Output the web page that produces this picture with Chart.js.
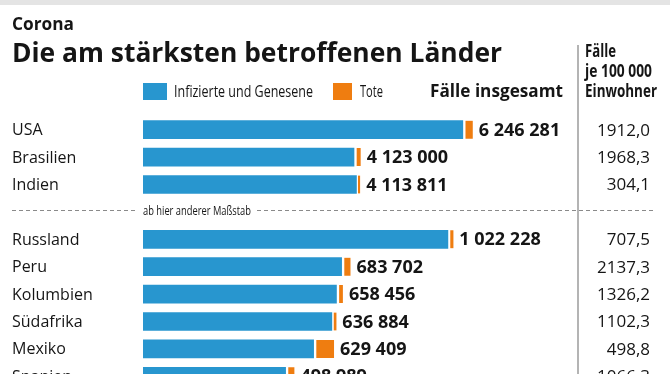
<!DOCTYPE html>
<html>
<head>
<meta charset="utf-8">
<script src="https://cdn.jsdelivr.net/npm/chart.js@4.4.0/dist/chart.umd.min.js"></script>
<style>
  html, body { margin: 0; padding: 0; width: 670px; height: 374px; overflow: hidden; background: #fff; }
  body { position: relative; font-family: 'Open Sans', sans-serif; color: #151515; }
  #chart { position: absolute; left: 0; top: 0; }
  .t { position: absolute; white-space: nowrap; line-height: 1; transform-origin: 0 0; }
  .b { font-weight: 700; }
  #topbar { position: absolute; left: 0; top: 0; width: 670px; height: 5px; background: #e4e4e4; }
  #vline { position: absolute; left: 577px; top: 45px; width: 2px; height: 340px; background: #b4b4b4; }
  .sq { position: absolute; top: 83px; height: 17px; }
</style>
</head>
<body>
<canvas id="chart" width="670" height="400"></canvas>
<div id="topbar"></div>
<div id="vline"></div>

<div class="t b" style="left:12px; top:15px; font-size:17px" data-w="62">Corona</div>
<div class="t b" style="left:12px; top:39px; font-size:26px" data-w="490">Die am stärksten betroffenen Länder</div>

<div class="sq" style="left:143px; width:24px; background:#2896cf"></div>
<div class="t" style="left:174px; top:82px; font-size:17px" data-w="139">Infizierte und Genesene</div>
<div class="sq" style="left:333px; width:19px; background:#ef7d10"></div>
<div class="t" style="left:360px; top:82px; font-size:17px" data-w="23">Tote</div>
<div class="t b" style="left:430px; top:82px; font-size:17px" data-w="133">Fälle insgesamt</div>

<div class="t b" style="left:585px; top:42px; font-size:17px" data-w="31">Fälle</div>
<div class="t b" style="left:585px; top:62px; font-size:17px" data-w="67">je 100 000</div>
<div class="t b" style="left:585px; top:82px; font-size:17px" data-w="72">Einwohner</div>

<div class="t" style="left:143px; top:204px; font-size:13px" data-w="108">ab hier anderer Maßstab</div>

<script>
const topCountries = ['USA', 'Brasilien', 'Indien'];
const topTotals = [6246281, 4123000, 4113811];
const topDeaths = [188538, 126203, 70626];

const bottomCountries = ['Russland', 'Peru', 'Kolumbien', 'Südafrika', 'Mexiko', 'Spanien'];
const bottomTotals = [1022228, 683702, 658456, 636884, 629409, 498989];
const bottomDeaths = [17820, 29405, 21156, 14779, 67326, 29234];

// Fälle je 100 000 Einwohner, same order as above
const per100k = ['1912,0', '1968,3', '304,1', '707,5', '2137,3', '1326,2', '1102,3', '498,8', '1066,3'];

const topMax = 8050000;
const bottomMax = 1400000;

const BLUE = '#2896cf';
const ORANGE = '#ef7d10';

// rows: top group, one empty row for the separator, bottom group
const rowLabels = [...topCountries, '', ...bottomCountries];
const topRows = v => [...v, null, ...bottomCountries.map(() => null)];
const bottomRows = v => [...topCountries.map(() => null), null, ...v];
const topAlive = topTotals.map((t, i) => t - topDeaths[i]);
const bottomAlive = bottomTotals.map((t, i) => t - bottomDeaths[i]);

const fmt = n => String(n).replace(/\B(?=(\d{3})+(?!\d))/g, ' ');

const orangeBorder = { borderColor: '#fff', borderWidth: { left: 3, right: 0, top: 0, bottom: 0 }, borderSkipped: false };

const labelsPlugin = {
    id: 'labels',
    afterDatasetsDraw(chart) {
        const ctx = chart.ctx;
        const y = chart.scales.y;
        ctx.save();
        ctx.textBaseline = 'middle';

        // country names
        ctx.fillStyle = '#151515';
        ctx.font = '16px "Open Sans"';
        ctx.textAlign = 'left';
        rowLabels.forEach((name, i) => {
            if (name) ctx.fillText(name, 12, y.getPixelForValue(i) + 1);
        });

        // totals after the bars
        ctx.font = 'bold 18px "Open Sans"';
        const groups = [[1, topTotals, 0], [3, bottomTotals, topCountries.length + 1]];
        groups.forEach(([dsIndex, totals, offset]) => {
            const meta = chart.getDatasetMeta(dsIndex);
            totals.forEach((t, i) => {
                const bar = meta.data[i + offset];
                ctx.fillText(fmt(t), bar.x + 6, y.getPixelForValue(i + offset) + 1);
            });
        });

        // per 100 000 column
        ctx.font = '17px "Open Sans"';
        ctx.textAlign = 'right';
        const rowsWithData = rowLabels.map((n, i) => i).filter(i => rowLabels[i]);
        rowsWithData.forEach((row, k) => {
            ctx.fillText(per100k[k], 650, y.getPixelForValue(row) + 1);
        });

        // separator
        const sepY = Math.round(y.getPixelForValue(topCountries.length)) - 1.5;
        ctx.strokeStyle = '#8a8a8a';
        ctx.lineWidth = 1;
        ctx.setLineDash([4, 3]);
        ctx.beginPath();
        ctx.moveTo(12, sepY); ctx.lineTo(137, sepY);
        ctx.moveTo(257, sepY); ctx.lineTo(656, sepY);
        ctx.stroke();
        ctx.restore();
    }
};

new Chart(document.getElementById('chart'), {
    type: 'bar',
    data: {
        labels: rowLabels,
        datasets: [
            { data: topRows(topAlive), backgroundColor: BLUE, xAxisID: 'x', stack: 's' },
            { data: topRows(topDeaths), backgroundColor: ORANGE, xAxisID: 'x', stack: 's', ...orangeBorder },
            { data: bottomRows(bottomAlive), backgroundColor: BLUE, xAxisID: 'x2', stack: 's' },
            { data: bottomRows(bottomDeaths), backgroundColor: ORANGE, xAxisID: 'x2', stack: 's', ...orangeBorder }
        ]
    },
    options: {
        indexAxis: 'y',
        responsive: false,
        animation: false,
        barThickness: 18,
        layout: { padding: { left: 143, right: 102, top: 116, bottom: 10 } },
        scales: {
            y: { stacked: true, display: false },
            x: { stacked: true, min: 0, max: topMax, display: false },
            x2: { stacked: true, min: 0, max: bottomMax, display: false, position: 'bottom' }
        },
        plugins: { legend: { display: false }, tooltip: { enabled: false } }
    },
    plugins: [labelsPlugin]
});

// squeeze header texts to the widths of the condensed original
document.querySelectorAll('[data-w]').forEach(el => {
    const w = el.getBoundingClientRect().width;
    el.style.transform = `scaleX(${el.dataset.w / w})`;
});
</script>
</body>
</html>
